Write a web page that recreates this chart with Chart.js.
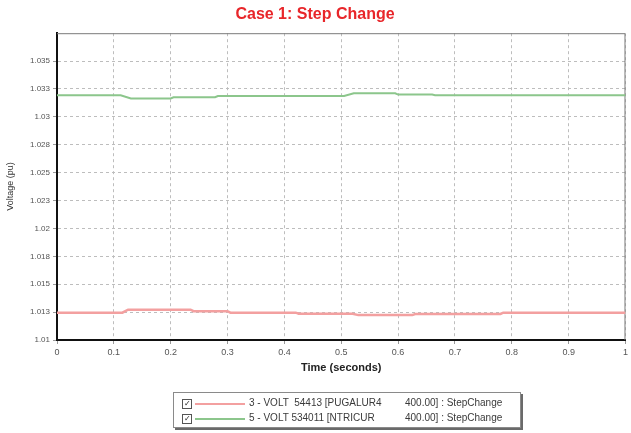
<!DOCTYPE html>
<html>
<head>
<meta charset="utf-8">
<script src="https://cdn.jsdelivr.net/npm/chart.js@4/dist/chart.umd.min.js"></script>
<style>
  html, body { margin: 0; padding: 0; background: #fff; }
  #wrap { position: relative; width: 631px; height: 433px; overflow: hidden; }
  #c { position: absolute; left: 0; top: 0; }
  #legend {
    position: absolute; left: 173px; top: 392px; width: 346px; height: 34px;
    border: 1px solid #8a8a8a; box-shadow: 2px 2px 0 #6a6a6a; background: #fff;
    font-family: "Liberation Sans", Arial, sans-serif; font-size: 10px; color: #3a3a3a;
  }
  .row { position: absolute; left: 6px; width: 335px; height: 14px; }
  .box { position: absolute; left: 2px; top: 2px; width: 8px; height: 8px; border: 1px solid #555; font-size: 8px; line-height: 8px; text-align: center; color: #222; }
  .sw { position: absolute; left: 15px; top: 6px; width: 50px; height: 2px; }
  .t1 { position: absolute; left: 69px; top: 0; white-space: pre; }
  .t2 { position: absolute; left: 225px; top: 0; white-space: pre; }
</style>
</head>
<body>
<div id="wrap">
  <canvas id="c" width="631" height="433"></canvas>
  <div id="legend">
    <div class="row" style="top:4px"><span class="box">✓</span><span class="sw" id="sw0"></span><span class="t1" id="lg0a"></span><span class="t2" id="lg0b"></span></div>
    <div class="row" style="top:19px"><span class="box">✓</span><span class="sw" id="sw1"></span><span class="t1" id="lg1a"></span><span class="t2" id="lg1b"></span></div>
  </div>
</div>
<script>
// Bus voltage traces for the step change case (time in s, voltage in pu)
const seriesBus = ["3 - VOLT  54413 [PUGALUR4", "5 - VOLT 534011 [NTRICUR"];
const seriesTail = ["400.00] : StepChange", "400.00] : StepChange"];
const seriesColors = ["#f3a0a0", "#8cc68c"];

const timeRed  = [0, 0.115, 0.125, 0.235, 0.24, 0.30, 0.305, 0.42, 0.425, 0.52, 0.53, 0.625, 0.63, 0.78, 0.785, 1];
const voltRed  = [1.01245, 1.01245, 1.01272, 1.01272, 1.01258, 1.01258, 1.01245, 1.01245, 1.01236, 1.01236, 1.01223, 1.01223, 1.01233, 1.01233, 1.01245, 1.01245];
const timeGreen = [0, 0.112, 0.13, 0.20, 0.205, 0.278, 0.283, 0.505, 0.522, 0.595, 0.60, 0.66, 0.665, 1];
const voltGreen = [1.03194, 1.03194, 1.03165, 1.03165, 1.03176, 1.03176, 1.03187, 1.03187, 1.03212, 1.03212, 1.03200, 1.03200, 1.03194, 1.03194];

const xTickValues = [0, 0.1, 0.2, 0.3, 0.4, 0.5, 0.6, 0.7, 0.8, 0.9, 1];
const xTickLabels = ["0", "0.1", "0.2", "0.3", "0.4", "0.5", "0.6", "0.7", "0.8", "0.9", "1"];
const yTickValues = [1.01, 1.0125, 1.015, 1.0175, 1.02, 1.0225, 1.025, 1.0275, 1.03, 1.0325, 1.035];
const yTickLabels = ["1.01", "1.013", "1.015", "1.018", "1.02", "1.023", "1.025", "1.028", "1.03", "1.033", "1.035"];

for (let i = 0; i < 2; i++) {
  document.getElementById('lg' + i + 'a').textContent = seriesBus[i];
  document.getElementById('lg' + i + 'b').textContent = seriesTail[i];
  document.getElementById('sw' + i).style.background = seriesColors[i];
}

const pts = (xs, ys) => xs.map((x, i) => ({ x: x, y: ys[i] }));
const FONT = '"Liberation Sans", Arial, sans-serif';

// Light frame on the top and right edges of the plot area
const frame = {
  id: 'frame',
  beforeDatasetsDraw(chart) {
    const { ctx, chartArea: a } = chart;
    ctx.save();
    ctx.strokeStyle = '#7a7a7a';
    ctx.lineWidth = 1;
    ctx.beginPath();
    ctx.moveTo(a.left, a.top + 0.5);
    ctx.lineTo(a.right - 0.5, a.top + 0.5);
    ctx.lineTo(a.right - 0.5, a.bottom);
    ctx.stroke();
    ctx.restore();
  }
};

new Chart(document.getElementById('c'), {
  type: 'line',
  data: {
    datasets: [
      { label: seriesBus[0] + ' ' + seriesTail[0], data: pts(timeRed, voltRed), borderColor: seriesColors[0], borderWidth: 2.5, pointRadius: 0, tension: 0 },
      { label: seriesBus[1] + ' ' + seriesTail[1], data: pts(timeGreen, voltGreen), borderColor: seriesColors[1], borderWidth: 2, pointRadius: 0, tension: 0 }
    ]
  },
  options: {
    responsive: false,
    animation: false,
    layout: { padding: { left: 0, right: 1, top: 0, bottom: 58 } },
    plugins: {
      legend: { display: false },
      tooltip: { enabled: false },
      title: {
        display: true,
        text: 'Case 1: Step Change',
        color: '#e8262a',
        font: { family: FONT, size: 16, weight: 'bold' },
        padding: { top: 5, bottom: 9 }
      }
    },
    scales: {
      x: {
        type: 'linear', min: 0, max: 1,
        afterBuildTicks: (s) => { s.ticks = xTickValues.map(v => ({ value: v })); },
        afterFit: (s) => { s.height = 35; },
        ticks: {
          callback: (v, i) => xTickLabels[i],
          color: '#555', font: { family: FONT, size: 9 },
          maxRotation: 0, padding: 3
        },
        grid: { color: '#bdbdbd', tickLength: 4, tickColor: '#999' },
        border: { color: '#111', width: 2, dash: [3, 3] },
        title: {
          display: true, text: 'Time (seconds)', color: '#222',
          font: { family: FONT, size: 11, weight: 'bold' },
          padding: { top: 0, bottom: 0 }
        }
      },
      y: {
        type: 'linear', min: 1.01, max: 1.0375,
        afterBuildTicks: (s) => { s.ticks = yTickValues.map(v => ({ value: v })); },
        afterFit: (s) => { s.width = 57; },
        ticks: {
          callback: (v, i) => yTickLabels[i],
          color: '#555', font: { family: FONT, size: 8 },
          padding: 3
        },
        grid: { color: '#bdbdbd', tickLength: 4, tickColor: '#999' },
        border: { color: '#111', width: 2, dash: [3, 3] },
        title: {
          display: true, text: 'Voltage (pu)', color: '#333',
          font: { family: FONT, size: 9 },
          padding: { top: 5, bottom: 4 }
        }
      }
    }
  },
  plugins: [frame]
});
</script>
</body>
</html>
